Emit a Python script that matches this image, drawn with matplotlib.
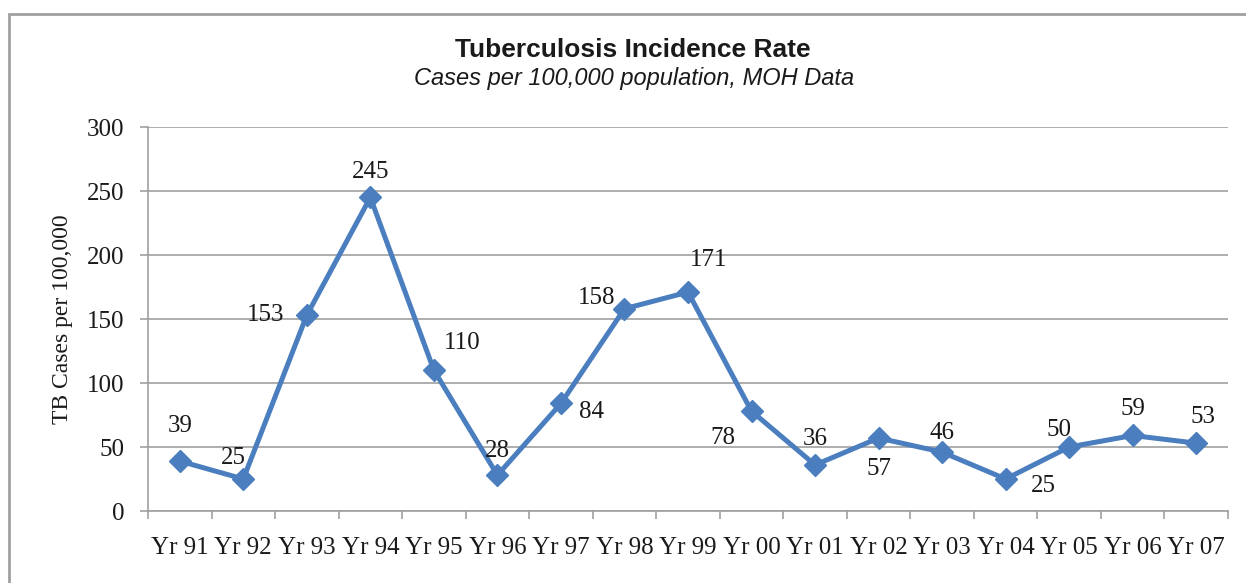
import matplotlib.pyplot as plt
from matplotlib.patches import Rectangle

# data
years = ["Yr 91", "Yr 92", "Yr 93", "Yr 94", "Yr 95", "Yr 96", "Yr 97", "Yr 98", "Yr 99",
         "Yr 00", "Yr 01", "Yr 02", "Yr 03", "Yr 04", "Yr 05", "Yr 06", "Yr 07"]
cases = [39, 25, 153, 245, 110, 28, 84, 158, 171, 78, 36, 57, 46, 25, 50, 59, 53]

# where each value label sits relative to its point (pixels)
label_offsets = [(0, 35), (-10, 21), (-41, 0), (0, 25), (28, 27), (0, 24), (31, -9),
                 (-28, 11), (21, 32), (-29, -27), (0, 26), (0, -31), (0, 19),
                 (38, -7), (-10, 17), (0, 26), (7, 26)]

serif = "Liberation Serif"
sans = "Liberation Sans"
blue = "#4A7EBF"
gray = "#A0A0A0"
fs = 18

fig = plt.figure(figsize=(12.46, 5.83), dpi=100)
ax = fig.add_axes([148 / 1246, 1 - 511 / 583, 1080 / 1246, 384 / 583])

x = list(range(len(years)))
ax.plot(x, cases, color=blue, lw=3.6, marker="D", markersize=11, zorder=3)

for xi, v, (dx, dy) in zip(x, cases, label_offsets):
    ax.annotate(str(v), (xi, v), xytext=(dx, dy), textcoords="offset pixels",
                ha="center", va="center", fontsize=fs, family=serif, color="#1a1a1a")

ax.set_xlim(-0.5, len(years) - 0.5)
ax.set_ylim(0, 300)
ax.set_yticks(range(0, 301, 50))
ax.set_xticks(x)
ax.set_xticklabels(years)
ax.set_xticks([i - 0.5 for i in range(len(years) + 1)], minor=True)
ax.tick_params(axis="x", which="major", length=0, pad=19)
ax.tick_params(axis="x", which="minor", length=6, width=1.2, color=gray)
ax.tick_params(axis="y", length=6, width=1.2, color=gray, pad=11)
for lab in ax.get_xticklabels() + ax.get_yticklabels():
    lab.set_fontfamily(serif)
    lab.set_fontsize(fs)
    lab.set_color("#1a1a1a")

ax.grid(axis="y", color=gray, lw=1.2)
ax.set_axisbelow(True)
for s in ["top", "right"]:
    ax.spines[s].set_visible(False)
for s in ["left", "bottom"]:
    ax.spines[s].set_color(gray)
    ax.spines[s].set_linewidth(1.2)

ax.set_ylabel("TB Cases per 100,000", family=serif, fontsize=17, labelpad=10, color="#1a1a1a")

fig.text(633 / 1246, 1 - 50 / 583, "Tuberculosis Incidence Rate", ha="center", va="center",
         family=sans, fontsize=19, fontweight="bold", color="#1a1a1a")
fig.text(634 / 1246, 1 - 79 / 583, "Cases per 100,000 population, MOH Data", ha="center",
         va="center", family=sans, fontsize=17, style="italic", color="#1a1a1a")

# outer chart border, cut off at the right and bottom like the reference
fig.patches.append(Rectangle((9 / 1246, -0.1), 1.2, 1.1 - 14 / 583, transform=fig.transFigure,
                             fill=False, edgecolor=gray, lw=2))

fig.savefig("out.png", dpi=100)
